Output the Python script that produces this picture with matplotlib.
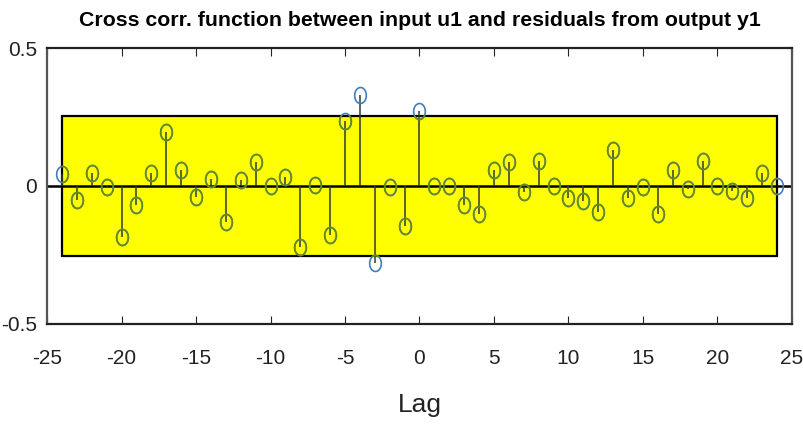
import numpy as np
import matplotlib
matplotlib.use('Agg')
import matplotlib.pyplot as plt
from matplotlib.path import Path
from matplotlib.patches import Rectangle

plt.rcParams['font.family'] = ['Liberation Sans', 'DejaVu Sans']

# cross correlation values, lags -24..24
lags = list(range(-24, 25))
xcorr = [0.042, -0.05, 0.046, -0.005, -0.186, -0.069, 0.046, 0.195, 0.058, -0.039,
         0.024, -0.129, 0.022, 0.088, 0.0, 0.031, -0.22, 0.004, -0.178, 0.237,
         0.33, -0.278, -0.005, -0.144, 0.273, 0.0, 0.0, -0.069, -0.103, 0.058,
         0.088, -0.022, 0.092, 0.0, -0.045, -0.053, -0.095, 0.13, -0.045, -0.005,
         -0.103, 0.056, -0.012, 0.092, 0.0, -0.02, -0.045, 0.046, 0.0]
conf = 0.255  # confidence band half width
xticks = [-25, -20, -15, -10, -5, 0, 5, 10, 15, 20, 25]
yticks = [-0.5, 0, 0.5]

blue = '#3f7fbf'
olive = '#6a8a14'
stemcol = '#2e3a33'

# slightly tall ellipse marker, like the stretched original
t = np.linspace(0, 2 * np.pi, 60)
ellipse = Path(np.column_stack([np.cos(t) * 0.73, np.sin(t)]))

fig = plt.figure(figsize=(8.04, 4.25), dpi=100)
ax = fig.add_axes([0.0585, 0.238, 0.9265, 0.649])

band = Rectangle((lags[0], -conf), lags[-1] - lags[0], 2 * conf, facecolor=(1, 1, 0),
                 edgecolor='black', lw=1.6, zorder=0.5)
ax.add_patch(band)
ax.axhline(0, color='black', lw=1.8, zorder=1)
ax.vlines(lags, 0, xcorr, color=stemcol, lw=1.1, zorder=2)
ax.plot(lags, xcorr, ls='none', marker=ellipse, ms=11.5, mfc='none', mec=blue, mew=1.2, zorder=3)
# inside the yellow band the circles look olive
inner, = ax.plot(lags, xcorr, ls='none', marker=ellipse, ms=11.5, mfc='none', mec=olive,
                 mew=1.2, zorder=3.5)
inner.set_clip_path(band)

ax.set_xlim(-25, 25)
ax.set_ylim(-0.5, 0.5)
ax.set_xticks(xticks)
ax.set_xticklabels([str(v) for v in xticks])
ax.set_yticks(yticks)
ax.set_yticklabels(['-0.5', '0', '0.5'])
ax.tick_params(axis='x', direction='in', length=6, top=True, labelsize=15, pad=18,
               colors='#222222')
ax.tick_params(axis='y', direction='in', length=0, labelsize=15, pad=7, colors='#222222')
for s in ['top', 'bottom']:
    ax.spines[s].set_color('#222222')
    ax.spines[s].set_linewidth(1.6)
for s in ['left', 'right']:
    ax.spines[s].set_color('#555555')
    ax.spines[s].set_linewidth(1.6)

ax.set_xlabel('Lag', fontsize=19, labelpad=18, color='#222222')
ax.set_title('Cross corr. function between input u1 and residuals from output y1',
             fontsize=15.3, fontweight='bold', pad=16)

fig.savefig('out.png', dpi=100)
